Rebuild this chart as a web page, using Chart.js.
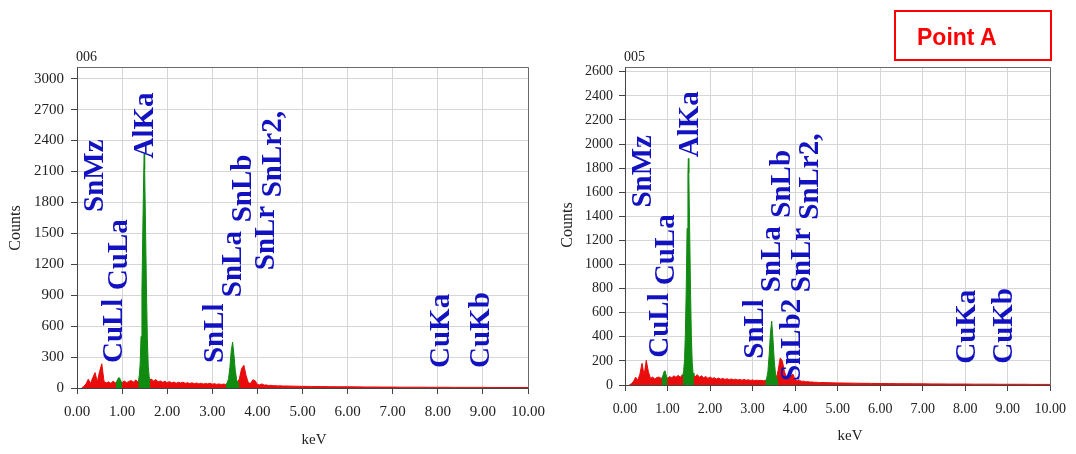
<!DOCTYPE html>
<html><head><meta charset="utf-8">
<script src="https://cdn.jsdelivr.net/npm/chart.js@4.4.1/dist/chart.umd.min.js"></script>
<style>
html,body{margin:0;padding:0;background:#fff;width:1076px;height:454px;overflow:hidden;position:relative;}
canvas{position:absolute;top:0;}
#c1{left:0;}
#c2{left:540px;}
#pa{position:absolute;left:894px;top:10px;width:154px;height:47px;border:2px solid #ff0000;}
#pa span{position:absolute;left:21px;top:12px;line-height:23px;font:bold 23px "Liberation Sans",Arial,sans-serif;color:#ff0000;white-space:nowrap;}
</style></head>
<body>
<canvas id="c1" width="560" height="454"></canvas>
<canvas id="c2" width="536" height="454"></canvas>
<div id="pa"><span>Point A</span></div>
<script>
// ---- data ----
const energy = [
0.10,0.15,0.20,0.25,0.30,0.35,0.40,0.45,0.50,0.55,
0.60,0.65,0.70,0.75,0.80,0.85,0.90,0.95,1.00,1.05,
1.10,1.15,1.20,1.25,1.30,1.35,1.40,1.45,1.50,1.55,
1.60,1.65,1.70,1.75,1.80,1.85,1.90,1.95,2.00,2.05,
2.10,2.15,2.20,2.25,2.30,2.35,2.40,2.45,2.50,2.55,
2.60,2.65,2.70,2.75,2.80,2.85,2.90,2.95,3.00,3.05,
3.10,3.15,3.20,3.25,3.30,3.35,3.40,3.45,3.50,3.55,
3.60,3.65,3.70,3.75,3.80,3.85,3.90,3.95,4.00,4.05,
4.10,4.15,4.20,4.25,4.30,4.35,4.40,4.45,4.50,4.55,
4.60,4.80,5.00,5.20,5.40,5.60,5.80,6.00,6.20,6.40,
6.60,6.80,7.00,7.20,7.40,7.60,7.80,8.00,8.20,8.40,
8.60,8.80,9.00,9.20,9.40,9.60,9.80,10.00];

const countsLeft = [
0,15,40,85,45,100,150,60,160,235,
62,50,60,45,65,50,58,62,52,68,
52,64,72,56,78,60,82,75,75,75,
74,88,66,82,60,68,56,64,52,62,
50,58,46,56,48,56,45,52,44,50,
42,48,40,46,38,44,40,46,37,42,
35,40,34,38,35,38,38,38,38,42,
90,190,220,120,50,45,80,70,35,30,
40,28,30,24,26,22,24,20,22,19,
20,18,16,15,14,13,12,12,11,10,
10,9,9,8,8,8,7,7,7,6,
6,6,6,5,5,5,5,5];

const countsRight = [
0,10,30,65,40,90,180,80,205,110,
55,66,50,62,66,55,60,66,55,70,
60,76,64,80,64,86,75,75,75,75,
80,70,86,64,76,60,70,55,66,55,
60,50,58,48,55,46,52,44,50,44,
48,42,46,40,46,39,44,38,42,37,
40,36,39,35,37,38,38,38,38,42,
120,225,200,110,55,50,75,90,45,35,
40,30,32,26,28,24,25,22,23,20,
21,19,17,16,15,14,13,12,12,11,
11,10,10,9,9,8,8,8,7,7,
7,6,6,6,6,5,5,5];

// identified peaks (green)
const cuLaE = [0.86,0.88,0.90,0.92,0.94,0.96,0.98,1.00];
const alKaE = [1.36,1.38,1.40,1.42,1.44,1.46,1.48,1.49,1.50,1.52,1.54,1.56,1.58,1.60,1.62];
const snLaE = [3.30,3.33,3.36,3.39,3.42,3.45,3.48,3.51,3.54,3.57,3.60];
const cuLaLeft  = [50,64,82,98,100,82,62,52];
const alKaLeft  = [60,120,230,500,950,1550,2100,2270,2120,1550,950,480,210,110,75];
const snLaLeft  = [36,48,90,200,360,445,320,170,80,48,42];
const cuLaRight = [55,66,88,112,118,92,68,55];
const alKaRight = [70,120,210,430,800,1300,1750,1880,1760,1300,800,420,190,100,75];
const snLaRight = [37,52,110,250,430,530,380,200,90,48,42];

// axis ticks
const xTickVals = [0,1,2,3,4,5,6,7,8,9,10];
const xTickLabels = ['0.00','1.00','2.00','3.00','4.00','5.00','6.00','7.00','8.00','9.00','10.00'];
const yTicksLeft  = [0,300,600,900,1200,1500,1800,2100,2400,2700,3000];
const yTicksRight = [0,200,400,600,800,1000,1200,1400,1600,1800,2000,2200,2400,2600];

// peak labels
const labelsLeft     = ['SnMz','CuLl','CuLa','AlKa','SnLl','SnLa','SnLb','SnLr','SnLr2,','CuKa','CuKb'];
const labelKeVLeft   = [0.566,0.99,1.10,1.68,3.23,3.63,3.85,4.36,4.52,8.25,9.13];
const labelCntLeft   = [1707,242,949,2226,242,881,1607,1142,1849,194,194];
const labelsRight    = ['SnMz','CuLl','CuLa','AlKa','SnLl','SnLa','SnLb','SnLb2','SnLr','SnLr2,','CuKa','CuKb'];
const labelKeVRight  = [0.60,1.02,1.16,1.72,3.24,3.64,3.87,4.12,4.36,4.55,8.24,9.11];
const labelCntRight  = [1473,226,828,1891,218,770,1389,33,770,1372,176,176];

// ---- drawing ----
const RED = 'rgb(232,12,12)';
const GREEN = 'rgb(16,138,16)';
const SERIF = "'Liberation Serif','Times New Roman',serif";
const xy = (xs, ys) => xs.map((x, i) => ({x: x, y: ys[i]}));

function makeChart(id, cfg) {
  const overlay = {
    id: 'overlay',
    afterDraw(chart) {
      const ctx = chart.ctx, a = chart.chartArea;
      const sx = chart.scales.x, sy = chart.scales.y;
      ctx.save();
      // frame top/right
      ctx.strokeStyle = '#6a6a6a'; ctx.lineWidth = 1;
      ctx.beginPath();
      ctx.moveTo(Math.round(a.left) + 0.5, Math.round(a.top) + 0.5);
      ctx.lineTo(Math.round(a.right) + 0.5, Math.round(a.top) + 0.5);
      ctx.lineTo(Math.round(a.right) + 0.5, Math.round(a.bottom) + 0.5);
      ctx.stroke();
      // peak labels
      ctx.fillStyle = 'rgb(18,18,192)';
      ctx.font = 'bold 29px ' + SERIF;
      ctx.textAlign = 'left'; ctx.textBaseline = 'alphabetic';
      cfg.labels.forEach((t, i) => {
        const px = sx.getPixelForValue(cfg.labelKeV[i]);
        const py = sy.getPixelForValue(cfg.labelCnt[i]);
        ctx.save(); ctx.translate(px, py); ctx.rotate(-Math.PI / 2);
        ctx.fillText(t, 0, 0); ctx.restore();
      });
      // titles
      ctx.fillStyle = '#222';
      ctx.font = '16px ' + SERIF;
      ctx.textAlign = 'center'; ctx.textBaseline = 'middle';
      ctx.save(); ctx.translate(cfg.countsPos[0], cfg.countsPos[1]); ctx.rotate(-Math.PI / 2);
      ctx.fillText('Counts', 0, 0); ctx.restore();
      ctx.font = '15px ' + SERIF;
      ctx.fillText('keV', cfg.kevPos[0], cfg.kevPos[1]);
      ctx.textAlign = 'left';
      ctx.font = '14px ' + SERIF;
      ctx.fillText(cfg.name, a.left - 1, cfg.namePosY);
      ctx.restore();
    }
  };
  const lineDs = (data, color, order) => ({
    data: data, borderColor: color, backgroundColor: color, borderWidth: 1,
    fill: 'origin', pointRadius: 0, tension: 0, order: order
  });
  return new Chart(document.getElementById(id), {
    type: 'line',
    data: { datasets: [
      lineDs(xy(cuLaE, cfg.cuLa), GREEN, 1),
      lineDs(xy(alKaE, cfg.alKa), GREEN, 1),
      lineDs(xy(snLaE, cfg.snLa), GREEN, 1),
      lineDs(xy(energy, cfg.red), RED, 2)
    ]},
    options: {
      responsive: false, animation: false, events: [],
      layout: { padding: { top: 67, right: cfg.padRight, bottom: 0, left: 0 } },
      plugins: { legend: { display: false }, tooltip: { enabled: false } },
      scales: {
        x: {
          type: 'linear', min: 0, max: 10,
          afterBuildTicks: s => { s.ticks = xTickVals.map(v => ({value: v})); },
          afterFit: s => { s.height = cfg.xh; },
          ticks: { callback: (v, i) => xTickLabels[i], autoSkip: false, maxRotation: 0,
                   font: { family: SERIF, size: cfg.fs }, color: '#222', padding: cfg.xpad },
          grid: { color: '#d6d6d6', tickColor: '#444', tickLength: 6 },
          border: { color: '#444' }
        },
        y: {
          type: 'linear', min: 0, max: cfg.ymax,
          afterBuildTicks: s => { s.ticks = cfg.yTicks.map(v => ({value: v})); },
          afterFit: s => { s.width = cfg.yw; },
          ticks: { callback: v => String(v), font: { family: SERIF, size: cfg.fs }, color: '#222', padding: cfg.ypad },
          grid: { color: '#d6d6d6', tickColor: '#444', tickLength: 6 },
          border: { color: '#444' }
        }
      }
    },
    plugins: [overlay]
  });
}

makeChart('c1', {
  red: countsLeft, cuLa: cuLaLeft, alKa: alKaLeft, snLa: snLaLeft,
  labels: labelsLeft, labelKeV: labelKeVLeft, labelCnt: labelCntLeft,
  yTicks: yTicksLeft, ymax: 3113, yw: 77, xh: 66, padRight: 32, fs: 15, ypad: 7, xpad: 9,
  countsPos: [16, 228], kevPos: [314, 440], name: '006', namePosY: 57
});
makeChart('c2', {
  red: countsRight, cuLa: cuLaRight, alKa: alKaRight, snLa: snLaRight,
  labels: labelsRight, labelKeV: labelKeVRight, labelCnt: labelCntRight,
  yTicks: yTicksRight, ymax: 2640, yw: 85, xh: 69, padRight: 23, fs: 14, ypad: 6, xpad: 10,
  countsPos: [28, 225], kevPos: [310, 436], name: '005', namePosY: 57
});
</script>
</body></html>
